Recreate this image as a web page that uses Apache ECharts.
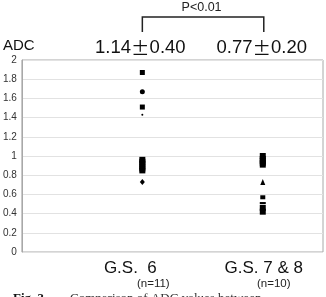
<!DOCTYPE html>
<html><head><meta charset="utf-8">
<script src="https://cdn.jsdelivr.net/npm/echarts@6/dist/echarts.min.js"></script>
<style>html,body{margin:0;padding:0;background:#fff}#c{width:326px;height:297px}</style>
</head><body><div id="c"></div>
<script>
const categories = ['G.S.  6', 'G.S. 7 & 8'];
const counts = ['(n=11)', '(n=10)'];
const means = ['1.14', '0.77'];
const sds = ['0.40', '0.20'];
const gs6Values = [1.87, 1.67, 1.51, 1.43, 0.96, 0.94, 0.92, 0.89, 0.87, 0.85, 0.73];
const gs6Symbols = ['rect', 'circle', 'rect', 'circle', 'rect', 'rect', 'rect', 'rect', 'rect', 'rect', 'diamond'];
const gs6Sizes = [5, 5, 5, [2, 2], [6, 6], [6, 6], [6, 6], [6, 6], [6, 6], [6, 6], [5, 6]];
const gs78Values = [1.00, 0.97, 0.95, 0.93, 0.91, 0.73, 0.57, 0.51, 0.46, 0.42];
const gs78Symbols = ['rect', 'rect', 'rect', 'rect', 'rect', 'triangle', 'rect', 'rect', 'rect', 'rect'];
const gs78Sizes = [[6, 6], [6, 6], [6, 6], [6, 6], [6, 6], [5, 6], [5, 4], [6, 2], [6, 6], [6, 6]];
const yTicks = [0, 0.2, 0.4, 0.6, 0.8, 1, 1.2, 1.4, 1.6, 1.8, 2];
const pText = 'P<0.01';

function pts(xv, vals, syms, sizes) {
  return vals.map((v, i) => ({ value: [xv, v], symbol: syms[i], symbolSize: sizes[i] }));
}

const chart = echarts.init(document.getElementById('c'));
chart.setOption({
  animation: false,
  grid: { left: 20, right: 3, top: 60, bottom: 45, show: true, borderColor: '#a8a8a8', borderWidth: 1 },
  xAxis: { type: 'value', min: 0, max: 2.5, show: false, splitLine: { show: false } },
  yAxis: {
    type: 'value', min: 0, max: 2, interval: 0.2,
    axisLine: { show: true, lineStyle: { color: '#a8a8a8' } },
    axisTick: { show: false },
    axisLabel: { color: '#333', fontSize: 10, margin: 5, fontFamily: 'Liberation Sans' },
    splitLine: { lineStyle: { color: '#e2e2e2' } }
  },
  series: [
    { type: 'scatter', data: pts(1, gs6Values, gs6Symbols, gs6Sizes), itemStyle: { color: '#000', opacity: 1 } },
    { type: 'scatter', data: pts(2, gs78Values, gs78Symbols, gs78Sizes), itemStyle: { color: '#000', opacity: 1 } }
  ]
});

const x1 = chart.convertToPixel({ gridIndex: 0 }, [1, 0])[0];
const x2 = chart.convertToPixel({ gridIndex: 0 }, [2, 0])[0];
function statText(i) {
  return {
    text: means[i] + '{pm|\u00b1}' + sds[i],
    font: '18.5px "Liberation Sans"', fill: '#111', align: 'center', verticalAlign: 'middle',
    rich: { pm: { fontFamily: 'Noto Sans CJK JP', fontSize: 18.5, fill: '#111' } }
  };
}
chart.setOption({
  graphic: [
    { type: 'text', left: 3, top: 38, style: { text: 'ADC', font: '15px "Liberation Sans"', fill: '#111' } },
    { type: 'text', x: (x1 + x2) / 2 - 1, y: 8, style: { text: pText, font: '12.5px "Liberation Sans"', fill: '#222', align: 'center', verticalAlign: 'middle' } },
    { type: 'polyline', shape: { points: [[x1, 32], [x1, 17], [x2 + 1, 17], [x2 + 1, 32]] }, style: { stroke: '#222', lineWidth: 1.5, fill: null } },
    { type: 'text', x: x1 - 2, y: 48, style: statText(0) },
    { type: 'text', x: x2 - 1, y: 48, style: statText(1) },
    { type: 'text', x: x1 - 12, y: 268, style: { text: categories[0], font: '17px "Liberation Sans"', fill: '#111', align: 'center', verticalAlign: 'middle' } },
    { type: 'text', x: x2 + 1, y: 268, style: { text: categories[1], font: '17px "Liberation Sans"', fill: '#111', align: 'center', verticalAlign: 'middle' } },
    { type: 'text', x: x1 + 11, y: 284, style: { text: counts[0], font: '11.5px "Liberation Sans"', fill: '#222', align: 'center', verticalAlign: 'middle' } },
    { type: 'text', x: x2 + 11, y: 284, style: { text: counts[1], font: '11.5px "Liberation Sans"', fill: '#222', align: 'center', verticalAlign: 'middle' } },
    { type: 'text', left: 13, top: 292, style: { text: '{b|Fig. 3}        Comparison of ADC values between', rich: { b: { font: 'bold 13px "Liberation Serif"', fill: '#111' } }, font: '13px "Liberation Serif"', fill: '#333' } }
  ]
});
</script></body></html>
